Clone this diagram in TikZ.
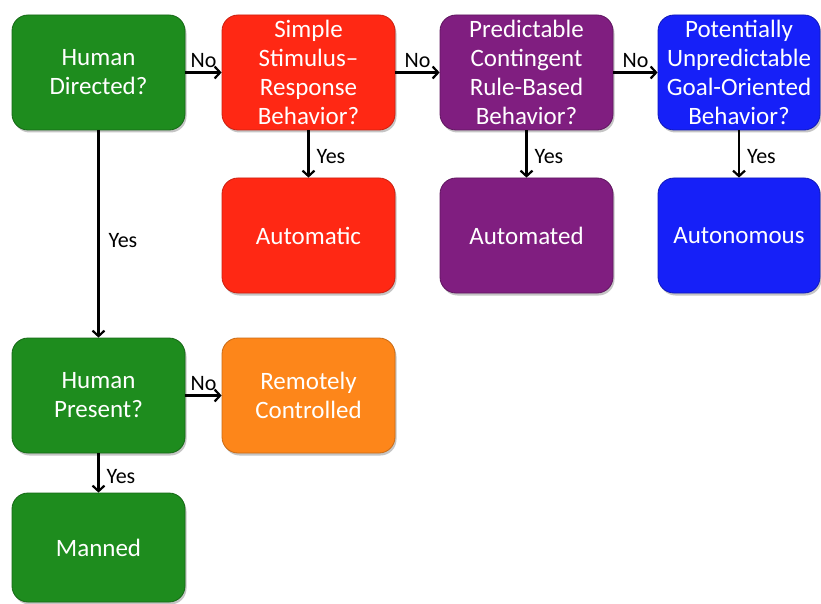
\documentclass[tikz,border=0pt]{standalone}
\usepackage{fontspec}
\setmainfont{Carlito}
\usetikzlibrary{arrows.meta,shadows}
\definecolor{cgreen}{RGB}{30,140,30}
\definecolor{cred}{RGB}{255,40,20}
\definecolor{cpurple}{RGB}{128,30,128}
\definecolor{cblue}{RGB}{22,32,248}
\definecolor{corange}{RGB}{253,134,26}
\tikzset{
  box/.style={rectangle, rounded corners=16pt, minimum width=173pt, minimum height=115pt,
    inner sep=0pt, align=center, text=white, font=\fontsize{25}{29}\selectfont,
    drop shadow={shadow xshift=1.5pt, shadow yshift=-2.5pt, opacity=0.45}},
  gbox/.style={box, fill=cgreen, draw=cgreen!75!black, line width=0.8pt},
  rbox/.style={box, fill=cred, draw=cred!80!black, line width=0.8pt},
  pbox/.style={box, fill=cpurple, draw=cpurple!75!black, line width=0.8pt},
  bbox/.style={box, fill=cblue, draw=cblue!75!black, line width=0.8pt},
  obox/.style={box, fill=corange, draw=corange!80!black, line width=0.8pt},
  arr/.style={line width=2.2pt, -{Straight Barb[length=5.5pt,width=12pt]}},
  lbl/.style={font=\fontsize{22}{24}\selectfont, text=black, inner sep=1pt}
}
\begin{document}
\begin{tikzpicture}[x=1pt,y=-1pt]
\useasboundingbox (0,0) rectangle (821,604);
\fill[white] (0,0) rectangle (821,604);
\node[gbox] (hd) at (98.5,72.5) {Human\\Directed?};
\node[rbox] (ssr) at (308.5,72.5) {Simple\\Stimulus–\\Response\\Behavior?};
\node[pbox] (pcr) at (526.5,72.5) {Predictable\\Contingent\\Rule-Based\\Behavior?};
\node[bbox, minimum width=162pt] (pug) at (739,72.5) {Potentially\\Unpredictable\\Goal-Oriented\\Behavior?};
\node[rbox] (aut1) at (308.5,235.5) {Automatic};
\node[pbox] (aut2) at (526.5,235.5) {Automated};
\node[bbox, minimum width=162pt] (aut3) at (739,235.5) {Autonomous};
\node[gbox] (hp) at (98.5,395.5) {Human\\Present?};
\node[obox] (rc) at (308.5,395.5) {Remotely\\Controlled};
\node[gbox, minimum height=109pt] (man) at (98.5,547.5) {Manned};

\draw[arr] (hd.east) -- (ssr.west) node[lbl, midway, above=3pt] {No};
\draw[arr] (ssr.east) -- (pcr.west) node[lbl, midway, above=3pt] {No};
\draw[arr] (pcr.east) -- (pug.west) node[lbl, midway, above=3pt] {No};
\draw[arr] (ssr.south) -- (aut1.north) node[lbl, pos=0.55, right=6pt] {Yes};
\draw[arr] (pcr.south) -- (aut2.north) node[lbl, pos=0.55, right=6pt] {Yes};
\draw[arr] (pug.south) -- (aut3.north) node[lbl, pos=0.55, right=6pt] {Yes};
\draw[arr] (hd.south) -- (hp.north) node[lbl, pos=0.53, right=8pt] {Yes};
\draw[arr] (hp.east) -- (rc.west) node[lbl, midway, above=3pt] {No};
\draw[arr] (hp.south) -- (man.north) node[lbl, pos=0.6, right=6pt] {Yes};
\end{tikzpicture}
\end{document}
